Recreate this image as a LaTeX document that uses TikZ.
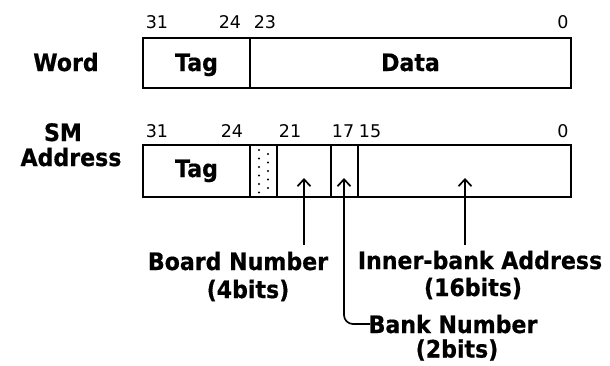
\documentclass[tikz,border=0pt]{standalone}
\usepackage{fontspec}
\setmainfont{DejaVu Sans}
\newfontfamily\labfam{DejaVu Sans}[FakeStretch=0.92, BoldFeatures={FakeBold=0.6}]
\usetikzlibrary{arrows.meta}
\newcommand\labfont{\labfam\bfseries\fontsize{24}{26}\selectfont}
\newcommand\bitfont{\fontsize{17.5}{19}\selectfont}
\begin{document}
\begin{tikzpicture}[x=1pt,y=-1pt,
  field/.style={draw, line width=1.7pt, inner sep=0pt, font=\labfont},
  lab/.style={anchor=base, inner sep=0pt, font=\labfont},
  bit/.style={anchor=base, inner sep=0pt, font=\bitfont},
  arr/.style={line width=1.7pt, -{Straight Barb[length=7pt,width=13pt]}}]
\useasboundingbox[fill=white] (0,0) rectangle (610,365);
% Word row
\node[bit] (w31) at (157,28) {31};
\node[bit] (w24) at (230,28) {24};
\node[bit] (w23) at (265,28) {23};
\node[bit] (w0)  at (563,28) {0};
\node[lab] (word) at (66,71) {Word};
\node[field, minimum width=107pt, minimum height=50pt] (wtag) at (196.5,63) {};
\node[field, minimum width=321pt, minimum height=50pt] (wdata) at (410.5,63) {};
\node[lab] (wtagt) at (196.5,71) {Tag};
\node[lab] (wdatat) at (410.5,71) {Data};
% SM row
\node[bit] (s31) at (157,137) {31};
\node[bit] (s24) at (232,137) {24};
\node[bit] (s21) at (290,137) {21};
\node[bit] (s17) at (343,137) {17};
\node[bit] (s15) at (370,137) {15};
\node[bit] (s0)  at (563,137) {0};
\node[lab] (sm) at (63,141) {SM};
\node[lab] (addr) at (71,166) {Address};
\node[field, minimum width=107pt, minimum height=52pt] (stag) at (196.5,171) {};
\node[field, minimum width=27pt, minimum height=52pt] (sres) at (263.5,171) {};
\node[field, minimum width=54pt, minimum height=52pt] (sboard) at (304,171) {};
\node[field, minimum width=27pt, minimum height=52pt] (sbank) at (344.5,171) {};
\node[field, minimum width=213pt, minimum height=52pt] (sinner) at (464.5,171) {};
\node[lab] (stagt) at (196.5,177) {Tag};
\foreach \y in {150,158.5,...,193} \fill (259,\y) circle (1.2pt);
\foreach \y in {154,162.5,...,193} \fill (268,\y) circle (1.2pt);
% labels
\node[lab] (board) at (238,270) {Board Number};
\node[lab] (board2) at (248,298) {(4bits)};
\node[lab] (inner) at (480,269) {Inner-bank Address};
\node[lab] (inner2) at (473,296) {(16bits)};
\node[lab] (bank) at (453,333) {Bank Number};
\node[lab] (bank2) at (457,357.5) {(2bits)};
% arrows
\coordinate (bstart) at (304,245);
\coordinate (btip) at (304,178);
\coordinate (istart) at (465,245);
\coordinate (itip) at (465,178);
\coordinate (kstart) at (370,324);
\coordinate (ktip) at (344,178);
\draw[arr] (bstart) -- (btip);
\draw[arr] (istart) -- (itip);
\draw[arr, rounded corners=9pt] (kstart) -| (ktip);
\end{tikzpicture}
\end{document}
